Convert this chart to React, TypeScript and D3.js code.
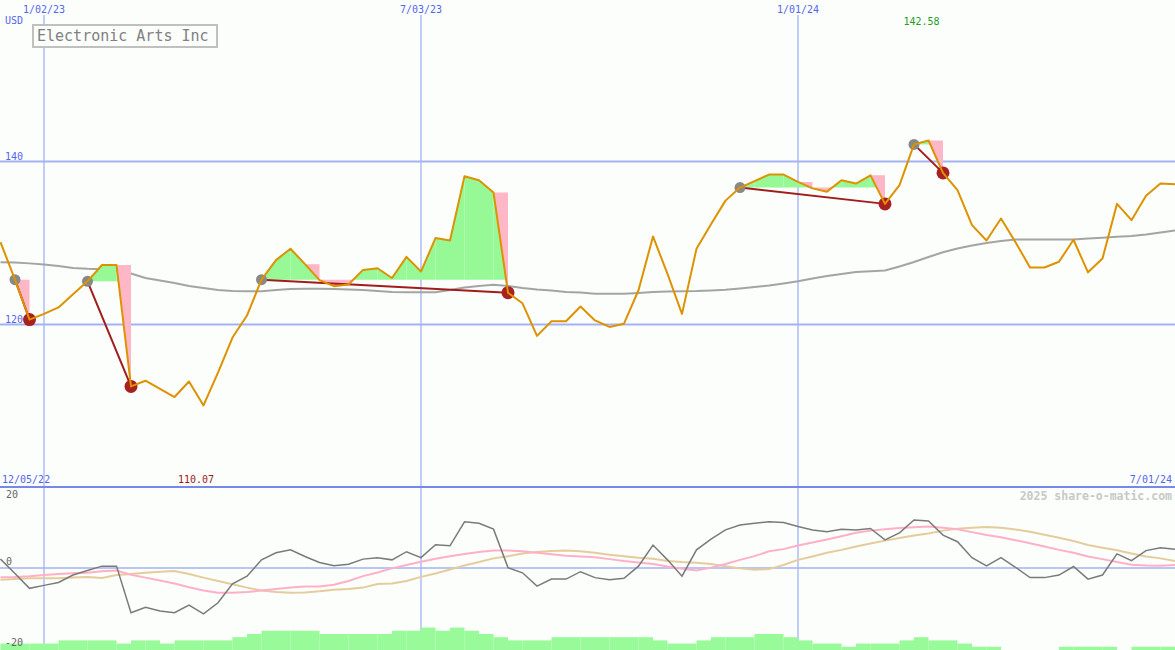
import React from 'react';
import * as d3 from 'd3';

// ---------- data ----------
const START = new Date(2022, 11, 12); // first weekly point
const price = [130.1, 125.5, 120.6, 121.3, 122.1, 123.7, 125.3, 127.3, 127.3, 112.4,
  113.1, 112.1, 111.1, 113.0, 110.07, 114.1, 118.4, 121.1, 125.5, 127.9,
  129.3, 127.4, 125.45, 124.7, 124.9, 126.7, 126.9, 125.7, 128.3, 126.5,
  130.6, 130.3, 138.2, 137.7, 136.2, 123.9, 122.6, 118.6, 120.4, 120.4,
  122.2, 120.5, 119.7, 120.1, 124.2, 130.8, 126.2, 121.3, 129.3, 132.3,
  135.2, 136.8, 137.6, 138.4, 138.4, 137.5, 136.7, 136.3, 137.7, 137.3,
  138.3, 134.8, 137.1, 142.1, 142.58, 138.6, 136.5, 132.2, 130.3, 133.0,
  130.1, 127.0, 127.0, 127.7, 130.4, 126.4, 128.1, 134.8, 132.8, 135.8,
  137.3, 137.2];
const movingAvg = [127.64, 127.61, 127.5, 127.36, 127.18, 126.93, 126.83, 126.79, 126.75, 126.26,
  125.71, 125.4, 125.09, 124.72, 124.48, 124.23, 124.11, 124.09, 124.09, 124.23,
  124.36, 124.38, 124.38, 124.36, 124.29, 124.23, 124.11, 123.99, 123.96, 123.96,
  123.96, 124.23, 124.54, 124.72, 124.87, 124.72, 124.48, 124.29, 124.17, 123.99,
  123.93, 123.77, 123.77, 123.77, 123.87, 123.99, 124.05, 124.09, 124.11, 124.17,
  124.26, 124.42, 124.6, 124.79, 125.03, 125.31, 125.64, 125.95, 126.2, 126.44,
  126.54, 126.63, 127.12, 127.67, 128.28, 128.87, 129.33, 129.69, 130.0, 130.25,
  130.43, 130.43, 130.43, 130.43, 130.43, 130.55, 130.64, 130.76, 130.86, 131.04,
  131.29, 131.53];
const peakIdx = [1, 6, 18, 51, 63];
const troughIdx = [2, 9, 35, 61, 65];

const momentum = [2.4, -1.5, -5.5, -4.7, -3.9, -1.9, -0.7, 0.5, 0.5, -12.1,
  -10.6, -11.6, -12.1, -10, -12.4, -9.4, -4.3, -2.2, 2.2, 4.1,
  4.9, 3.1, 1.5, 0.6, 1.0, 2.4, 2.8, 2.2, 4.4, 2.8,
  6.3, 6.0, 12.5, 12.1, 10.5, 0.1, -1.3, -4.9, -3, -3,
  -1, -2.6, -3.2, -2.8, 0.5, 6.2, 2.2, -2.2, 4.9, 7.8,
  10.3, 11.6, 12.1, 12.5, 12.3, 11.2, 10.3, 9.8, 10.5, 10.3,
  10.7, 7.6, 9.5, 13, 12.7, 8.9, 7.1, 2.8, 0.6, 2.8,
  0.2, -2.6, -2.6, -1.9, 0.4, -3, -1.9, 3.8, 2, 4.7,
  5.5, 5.1];
const signalFast = [-2.5, -2.4, -2.2, -1.9, -1.6, -1.4, -1.3, -0.9, -0.7, -1.8,
  -2.6, -3.4, -4.2, -5.2, -6.1, -6.7, -6.7, -6.5, -6.1, -5.7,
  -5.3, -5.0, -5.0, -4.5, -3.5, -2.2, -1.2, -0.1, 0.8, 1.7,
  2.5, 3.2, 3.8, 4.3, 4.7, 4.7, 4.5, 4.1, 3.7, 3.3,
  3.1, 2.9, 2.4, 1.9, 1.5, 1.1, 0.4, -0.2, -0.7, 0.1,
  1.1, 2.2, 3.2, 4.5, 5.1, 6.1, 6.9, 7.7, 8.6, 9.5,
  10.1, 10.5, 10.8, 11.0, 11.2, 10.9, 10.5, 9.7, 8.9, 8.3,
  7.5, 6.7, 5.8, 4.9, 4.1, 3.1, 2.4, 1.6, 0.9, 0.7,
  0.6, 0.8];
const signalSlow = [-3.2, -3.0, -2.8, -2.8, -2.8, -2.6, -2.4, -2.7, -1.9, -1.6,
  -1.3, -1.0, -0.8, -1.6, -2.6, -3.5, -4.4, -5.3, -6.1, -6.5,
  -6.7, -6.6, -6.3, -5.9, -5.7, -5.3, -4.3, -4.2, -3.5, -2.4,
  -1.5, -0.4, 0.7, 1.6, 2.6, 3.2, 3.9, 4.3, 4.6, 4.7,
  4.5, 4.1, 3.6, 3.2, 2.8, 2.5, 1.9, 1.6, 1.4, 1.1,
  0.5, -0.1, -0.5, -0.3, 0.8, 2.2, 3.1, 4.1, 4.9, 5.8,
  6.6, 7.4, 8.1, 8.8, 9.3, 10.1, 10.6, 10.9, 11.1, 10.9,
  10.4, 9.8, 9.0, 8.2, 7.3, 6.2, 5.5, 4.8, 3.9, 3.1,
  2.6, 1.9];
const volume = [2, 2, 2, 2, 3, 3, 3, 3, 2, 3,
  3, 2, 3, 3, 3, 3, 4, 5, 6, 6,
  6, 6, 5, 5, 5, 5, 5, 6, 6, 7,
  6, 7, 6, 5, 4, 3, 3, 3, 4, 4,
  4, 4, 4, 4, 4, 3, 2, 2, 3, 4,
  4, 4, 5, 5, 4, 3, 2, 2, 1, 2,
  2, 2, 3, 4, 3, 3, 2, 1, 1, 0,
  0, 0, 0, 1, 1, 1, 1, 0, 1, 1,
  1, 1];

const gridDates = [new Date(2023, 0, 2), new Date(2023, 6, 3), new Date(2024, 0, 1)];
const rangeStartLabel = new Date(2022, 11, 5);
const rangeEndLabel = new Date(2024, 6, 1);
const priceTicks = [120, 140];
const lowerTicks = [20, 0, -20];
const title = 'Electronic Arts Inc';
const currency = 'USD';
const credit = '2025 share-o-matic.com';

// ---------- helpers ----------
const W = 1175, H = 650;
const FONT = '"DejaVu Sans Mono", "Liberation Mono", monospace';
const fmt = d3.timeFormat('%-m/%d/%y');
const dates = price.map((_, i) => d3.timeWeek.offset(START, i));

export default function App() {
  const x = d3.scaleTime().domain([new Date(2023, 0, 2), new Date(2024, 6, 1)]).range([44, 1175]);
  const y = d3.scaleLinear().domain([100, 160]).range([487.5, -1.5]);
  const yl = d3.scaleLinear().domain([-20, 20]).range([642, 494]);
  const yv = d3.scaleLinear().domain([0, 10]).range([650, 618]);

  const px = (i: number) => x(dates[i]);
  const lineP = d3.line<number>().x((_, i) => px(i)).y(d => y(d));
  const lineL = d3.line<number>().x((_, i) => px(i)).y(d => yl(d));

  const maxI = d3.maxIndex(price);
  const minI = d3.minIndex(price);

  // drawdown fills
  const greens: [number, number][][] = [];
  const pinks: [number, number][][] = [];
  peakIdx.forEach((p, j) => {
    const t = troughIdx[j];
    const L = price[p];
    const yL = y(L);
    for (let k = p; k < t; k++) {
      const v0 = price[k], v1 = price[k + 1];
      const x0 = px(k), x1 = px(k + 1), y0 = y(v0), y1 = y(v1);
      if (v0 >= L && v1 >= L) {
        greens.push([[x0, yL], [x0, y0], [x1, y1], [x1, yL]]);
      } else if (v0 >= L && v1 < L) {
        const xc = x0 + (x1 - x0) * (v0 - L) / (v0 - v1);
        greens.push([[x0, yL], [x0, y0], [xc, yL]]);
        pinks.push([[x0, y0], [x1, y0], [x1, y1]]);
      } else if (v0 < L && v1 >= L) {
        const xc = x0 + (x1 - x0) * (L - v0) / (v1 - v0);
        pinks.push([[x0, yL], [x0, y0], [xc, yL]]);
        greens.push([[xc, yL], [x1, y1], [x1, yL]]);
      } else {
        pinks.push([[x0, yL], [x0, y0], [x1, y1], [x1, yL]]);
      }
    }
  });
  const poly = (pts: [number, number][]) => 'M' + pts.map(p => p.join(',')).join('L') + 'Z';

  const gridBlue = '#a4b2f4';
  const textBlue = '#5566ee';

  return (
    <div style={{ position: 'absolute', left: 0, top: 0 }}>
      <svg width={W} height={H} style={{ display: 'block', background: '#fbfefb' }}>
        {/* grid */}
        {gridDates.map((d, i) => (
          <line key={'v' + i} x1={x(d)} x2={x(d)} y1={15} y2={H} stroke={gridBlue} strokeWidth={1.3} />
        ))}
        {priceTicks.map(t => (
          <line key={'h' + t} x1={0} x2={W} y1={y(t)} y2={y(t)} stroke={gridBlue} strokeWidth={2} />
        ))}
        <line x1={0} x2={W} y1={487} y2={487} stroke="#7787ea" strokeWidth={2} />

        {/* volume */}
        {volume.map((v, i) => v > 0 && (
          <rect key={'vol' + i} x={px(i)} y={yv(v)} width={x(d3.timeWeek.offset(dates[i], 1)) - px(i)} height={650 - yv(v)} fill="#98fa98" />
        ))}
        <line x1={0} x2={W} y1={yl(0)} y2={yl(0)} stroke={gridBlue} strokeWidth={1.6} />
        <path d={lineL(signalSlow) || ''} fill="none" stroke="#e4cc9c" strokeWidth={2} />
        <path d={lineL(signalFast) || ''} fill="none" stroke="#ffb0c8" strokeWidth={2} />
        <path d={lineL(momentum) || ''} fill="none" stroke="#7a7a7a" strokeWidth={1.5} />

        {/* moving average */}
        <path d={lineP(movingAvg) || ''} fill="none" stroke="#a4a4a4" strokeWidth={2} />

        {/* drawdown fills */}
        {pinks.map((p, i) => <path key={'pk' + i} d={poly(p)} fill="#ffb6c6" />)}
        {greens.map((p, i) => <path key={'gr' + i} d={poly(p)} fill="#96f996" />)}

        {/* drawdown connectors */}
        {peakIdx.map((p, j) => (
          <line key={'dd' + j} x1={px(p)} y1={y(price[p])} x2={px(troughIdx[j])} y2={y(price[troughIdx[j]])}
            stroke="#a21c1c" strokeWidth={2} />
        ))}
        {peakIdx.map(p => <circle key={'pc' + p} cx={px(p)} cy={y(price[p])} r={5.5} fill="#888888" />)}
        {troughIdx.map(t => <circle key={'tc' + t} cx={px(t)} cy={y(price[t])} r={6.5} fill="#a82020" />)}

        {/* price */}
        <path d={lineP(price) || ''} fill="none" stroke="#dd9200" strokeWidth={2} strokeLinejoin="round" />

        {/* texts */}
        <g fontFamily={FONT} fontSize={10}>
          {gridDates.map((d, i) => (
            <text key={'dl' + i} x={x(d)} y={13} textAnchor="middle" fill={textBlue}>{fmt(d)}</text>
          ))}
          <text x={5} y={24} fill={textBlue}>{currency}</text>
          {priceTicks.map(t => (
            <text key={'pt' + t} x={5} y={y(t) - 2} fill={textBlue}>{t}</text>
          ))}
          <text x={2} y={483} fill={textBlue}>{fmt(rangeStartLabel)}</text>
          <text x={1172} y={483} textAnchor="end" fill={textBlue}>{fmt(rangeEndLabel)}</text>
          <text x={px(maxI) - 7} y={25} textAnchor="middle" fill="#1e9e1e">{price[maxI].toFixed(2)}</text>
          <text x={196} y={483} textAnchor="middle" fill="#a01c1c">{price[minI].toFixed(2)}</text>
          {lowerTicks.map(t => (
            <text key={'lt' + t} x={t < 0 ? 5 : 6} y={t === 0 ? 565 : yl(t) + 4} fill="#666666">{t}</text>
          ))}
        </g>
        <text x={1172} y={500} textAnchor="end" fontFamily={FONT} fontSize={11.5} fontWeight="bold" fill="#c8c8c8">{credit}</text>

        {/* title box */}
        <rect x={33} y={25} width={184} height={22} fill="#fbfefb" stroke="#c0c0c0" strokeWidth={2} />
        <text x={37} y={41} fontFamily={FONT} fontSize={15} fill="#808080">{title}</text>
      </svg>
    </div>
  );
}
